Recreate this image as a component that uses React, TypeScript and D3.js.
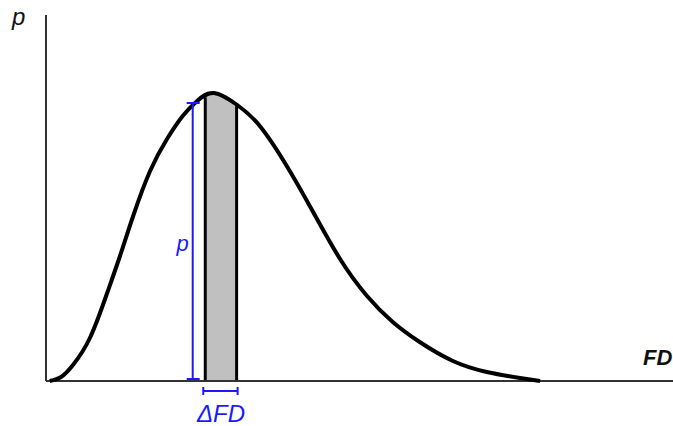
import React, {useRef, useEffect} from 'react';
import * as d3 from 'd3';

// curve: FD (arbitrary units) and p (arbitrary units)
const fdValues = [0.06, 0.24, 0.43, 0.70, 0.97, 1.18, 1.39, 1.66, 1.93, 2.18, 2.41, 2.68, 3.05, 3.41, 3.84, 4.26, 4.69, 5.12, 5.53, 5.96, 6.49, 7.03, 7.56, 7.88];
const pValues = [0, 4, 16, 43, 87, 125, 165, 210, 242, 265, 280, 288, 276, 255, 215, 169, 122, 85, 59, 39, 20, 9, 3, 0];

// the slice dFD and the p marker
const sliceFrom = 2.54;
const sliceTo = 3.04;
const markerFd = 2.34;
const markerP = 278;

const yLabel = 'p';
const xLabel = 'FD';
const markerLabel = 'p';
const sliceLabel = '\u0394FD';

function Chart() {
    const canvas = useRef(null)

    useEffect(() => {
        const width = 673
        const height = 426
        const left = 46
        const bottom = 381
        const top = 15

        d3.select(canvas.current).select('svg').remove()
        const svg = d3.select(canvas.current)
            .append('svg')
            .attr('width', width)
            .attr('height', height)
            .style('display', 'block')
            .style('background', '#fff')

        const x = d3.scaleLinear().domain([0, 10]).range([left, left + 627])
        const y = d3.scaleLinear().domain([0, 366]).range([bottom, top])

        const data = fdValues.map((fd, i) => ({fd, p: pValues[i]}))
        const pAt = (fd) => {
            const i = d3.bisector((d) => d.fd).left(data, fd)
            const a = data[Math.max(0, i - 1)], b = data[Math.min(data.length - 1, i)]
            if (a === b) return a.p
            return a.p + (b.p - a.p) * (fd - a.fd) / (b.fd - a.fd)
        }

        // shaded slice under the curve
        svg.append('clipPath').attr('id', 'slice')
            .append('rect')
            .attr('x', x(sliceFrom)).attr('y', 0)
            .attr('width', x(sliceTo) - x(sliceFrom)).attr('height', bottom)
        const area = d3.area().x((d) => x(d.fd)).y0(y(0)).y1((d) => y(d.p)).curve(d3.curveNatural)
        svg.append('path').datum(data)
            .attr('d', area)
            .attr('fill', '#c0c0c0')
            .attr('clip-path', 'url(#slice)')

        // slice edges
        svg.selectAll('line.edge')
            .data([sliceFrom, sliceTo])
            .enter()
            .append('line')
            .attr('x1', (d) => x(d)).attr('x2', (d) => x(d))
            .attr('y1', y(0)).attr('y2', (d) => y(pAt(d)))
            .attr('stroke', '#000')
            .attr('stroke-width', 3)

        // axes
        svg.append('line')
            .attr('x1', left).attr('x2', width)
            .attr('y1', bottom).attr('y2', bottom)
            .attr('stroke', '#333').attr('stroke-width', 2)
        svg.append('line')
            .attr('x1', left).attr('x2', left)
            .attr('y1', top).attr('y2', bottom)
            .attr('stroke', '#333').attr('stroke-width', 2)

        // curve
        const line = d3.line().x((d) => x(d.fd)).y((d) => y(d.p)).curve(d3.curveNatural)
        svg.append('path').datum(data)
            .attr('d', line)
            .attr('fill', 'none')
            .attr('stroke', '#000')
            .attr('stroke-width', 4)
            .attr('stroke-linejoin', 'round')

        const blue = '#1a1aff'
        // p marker
        const mx = x(markerFd)
        const g = svg.append('g').attr('stroke', blue).attr('stroke-width', 2)
        g.append('line').attr('x1', mx).attr('x2', mx).attr('y1', y(markerP)).attr('y2', y(0) - 2)
        g.append('line').attr('x1', mx - 6).attr('x2', mx + 7).attr('y1', y(markerP)).attr('y2', y(markerP))
        g.append('line').attr('x1', mx - 6).attr('x2', mx + 7).attr('y1', y(0) - 2).attr('y2', y(0) - 2)

        // dFD bracket
        const by = bottom + 10
        g.append('line').attr('x1', x(sliceFrom) - 2).attr('x2', x(sliceTo) + 1).attr('y1', by).attr('y2', by)
        g.append('line').attr('x1', x(sliceFrom) - 2).attr('x2', x(sliceFrom) - 2).attr('y1', by - 4).attr('y2', by + 4)
        g.append('line').attr('x1', x(sliceTo) + 1).attr('x2', x(sliceTo) + 1).attr('y1', by - 4).attr('y2', by + 4)

        const font = 'Arial, "Liberation Sans", sans-serif'
        svg.append('text')
            .attr('x', (x(sliceFrom) + x(sliceTo)) / 2)
            .attr('y', 422)
            .attr('text-anchor', 'middle')
            .style('font-family', font)
            .style('font-size', '24px')
            .style('font-style', 'italic')
            .attr('fill', blue)
            .text(sliceLabel)

        svg.append('text')
            .attr('x', mx - 10)
            .attr('y', 251)
            .attr('text-anchor', 'middle')
            .style('font-family', font)
            .style('font-size', '22px')
            .style('font-style', 'italic')
            .attr('fill', blue)
            .text(markerLabel)

        svg.append('text')
            .attr('x', 12)
            .attr('y', 25)
            .style('font-family', font)
            .style('font-size', '24px')
            .style('font-style', 'italic')
            .attr('fill', '#111')
            .text(yLabel)

        svg.append('text')
            .attr('x', 643)
            .attr('y', 365)
            .style('font-family', font)
            .style('font-size', '22px')
            .style('font-style', 'italic')
            .style('font-weight', 'bold')
            .attr('fill', '#111')
            .text(xLabel)
    }, [])

    return (
        <div ref={canvas}></div>
    )
}

export default function App() {
    return (
        <div style={{position: 'absolute', left: 0, top: 0}}>
            <Chart />
        </div>
    )
}
